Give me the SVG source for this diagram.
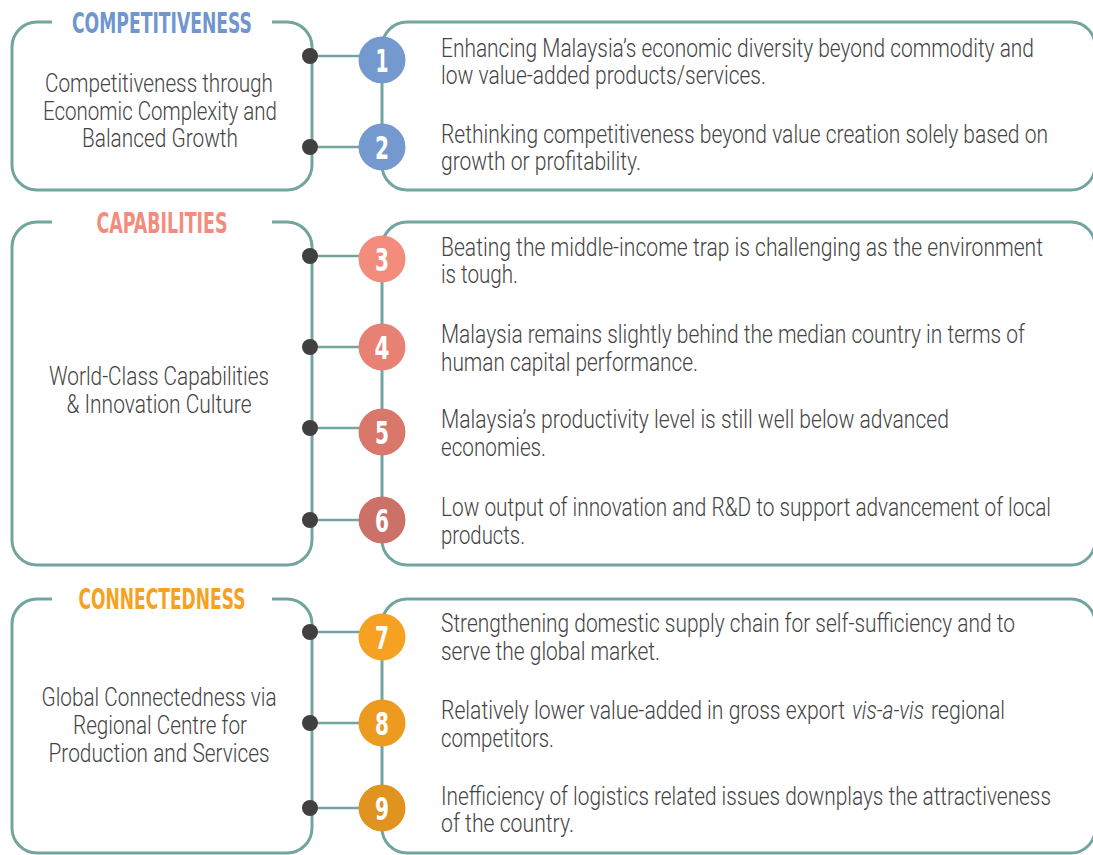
<svg xmlns="http://www.w3.org/2000/svg" width="1093" height="855" viewBox="0 0 1093 855">
<style>
.box{fill:none;stroke:#72a5a0;stroke-width:3}
.con{stroke:#72a5a0;stroke-width:2.5;fill:none}
.dot{fill:#404040}
.title{font-family:"DejaVu Sans Condensed","DejaVu Sans",sans-serif;font-weight:bold;font-size:29px;text-anchor:middle}
.lt{font-family:Roboto,"Liberation Sans",sans-serif;font-weight:300;font-size:25px;fill:#444;text-anchor:middle}
.rt{font-family:Roboto,"Liberation Sans",sans-serif;font-weight:300;font-size:25px;fill:#444}
.num{font-family:"DejaVu Sans Condensed","DejaVu Sans",sans-serif;font-weight:bold;font-size:32px;fill:#fff;text-anchor:middle}
</style>
<rect width="1093" height="855" fill="#fff"/>

<!-- Section 1 -->
<g id="competitiveness">
<path class="box" d="M52,22 H37 A25,25 0 0 0 12,47 V165 A25,25 0 0 0 37,190 H287 A25,25 0 0 0 312,165 V47 A25,25 0 0 0 287,22 H272"/>
<text class="title" x="162" y="33" fill="#7096cd" textLength="180" lengthAdjust="spacingAndGlyphs">COMPETITIVENESS</text>
<text class="lt" x="159" y="92" textLength="228" lengthAdjust="spacingAndGlyphs">Competitiveness through</text>
<text class="lt" x="160" y="120" textLength="234" lengthAdjust="spacingAndGlyphs">Economic Complexity and</text>
<text class="lt" x="160" y="147" textLength="156" lengthAdjust="spacingAndGlyphs">Balanced Growth</text>
</g>
<g id="items1">
<path class="box" d="M382,165 V47 A25,25 0 0 1 407,22 H1071 A24,24 0 0 1 1095,46 V166 A24,24 0 0 1 1071,190 H407 A25,25 0 0 1 382,165"/>
<text class="rt" x="441" y="57" textLength="593" lengthAdjust="spacingAndGlyphs">Enhancing Malaysia’s economic diversity beyond commodity and</text>
<text class="rt" x="441" y="84" textLength="325" lengthAdjust="spacingAndGlyphs">low value-added products/services.</text>
<text class="rt" x="441" y="143" textLength="607" lengthAdjust="spacingAndGlyphs">Rethinking competitiveness beyond value creation solely based on</text>
<text class="rt" x="441" y="170" textLength="200" lengthAdjust="spacingAndGlyphs">growth or profitability.</text>
</g>

<!-- Section 2 -->
<g id="capabilities">
<path class="box" d="M52,222 H37 A25,25 0 0 0 12,247 V540 A25,25 0 0 0 37,565 H287 A25,25 0 0 0 312,540 V247 A25,25 0 0 0 287,222 H272"/>
<text class="title" x="162" y="233" fill="#f48c7e" textLength="131" lengthAdjust="spacingAndGlyphs">CAPABILITIES</text>
<text class="lt" x="159" y="385" textLength="220" lengthAdjust="spacingAndGlyphs">World-Class Capabilities</text>
<text class="lt" x="159" y="413" textLength="185" lengthAdjust="spacingAndGlyphs">&amp; Innovation Culture</text>
</g>
<g id="items2">
<path class="box" d="M382,540 V247 A25,25 0 0 1 407,222 H1071 A24,24 0 0 1 1095,246 V541 A24,24 0 0 1 1071,565 H407 A25,25 0 0 1 382,540"/>
<text class="rt" x="441" y="256" textLength="602" lengthAdjust="spacingAndGlyphs">Beating the middle-income trap is challenging as the environment</text>
<text class="rt" x="441" y="283" textLength="77" lengthAdjust="spacingAndGlyphs">is tough.</text>
<text class="rt" x="441" y="343" textLength="584" lengthAdjust="spacingAndGlyphs">Malaysia remains slightly behind the median country in terms of</text>
<text class="rt" x="441" y="371" textLength="257" lengthAdjust="spacingAndGlyphs">human capital performance.</text>
<text class="rt" x="441" y="428" textLength="508" lengthAdjust="spacingAndGlyphs">Malaysia’s productivity level is still well below advanced</text>
<text class="rt" x="441" y="456" textLength="105" lengthAdjust="spacingAndGlyphs">economies.</text>
<text class="rt" x="441" y="516" textLength="610" lengthAdjust="spacingAndGlyphs">Low output of innovation and R&amp;D to support advancement of local</text>
<text class="rt" x="441" y="544" textLength="84" lengthAdjust="spacingAndGlyphs">products.</text>
</g>

<!-- Section 3 -->
<g id="connectedness">
<path class="box" d="M52,599 H37 A25,25 0 0 0 12,624 V828 A25,25 0 0 0 37,853 H287 A25,25 0 0 0 312,828 V624 A25,25 0 0 0 287,599 H272"/>
<text class="title" x="162" y="609" fill="#f6a121" textLength="167" lengthAdjust="spacingAndGlyphs">CONNECTEDNESS</text>
<text class="lt" x="159" y="706" textLength="235" lengthAdjust="spacingAndGlyphs">Global Connectedness via</text>
<text class="lt" x="160" y="734" textLength="174" lengthAdjust="spacingAndGlyphs">Regional Centre for</text>
<text class="lt" x="159" y="762" textLength="221" lengthAdjust="spacingAndGlyphs">Production and Services</text>
</g>
<g id="items3">
<path class="box" d="M382,828 V624 A25,25 0 0 1 407,599 H1071 A24,24 0 0 1 1095,623 V829 A24,24 0 0 1 1071,853 H407 A25,25 0 0 1 382,828"/>
<text class="rt" x="441" y="632" textLength="574" lengthAdjust="spacingAndGlyphs">Strengthening domestic supply chain for self-sufficiency and to</text>
<text class="rt" x="441" y="660" textLength="219" lengthAdjust="spacingAndGlyphs">serve the global market.</text>
<text class="rt" x="441" y="719" textLength="404" lengthAdjust="spacingAndGlyphs">Relatively lower value-added in gross export</text>
<text class="rt" x="852" y="719" font-style="italic" textLength="72" lengthAdjust="spacingAndGlyphs">vis-a-vis</text>
<text class="rt" x="931" y="719" textLength="74" lengthAdjust="spacingAndGlyphs">regional</text>
<text class="rt" x="441" y="747" textLength="113" lengthAdjust="spacingAndGlyphs">competitors.</text>
<text class="rt" x="441" y="805" textLength="610" lengthAdjust="spacingAndGlyphs">Inefficiency of logistics related issues downplays the attractiveness</text>
<text class="rt" x="441" y="832" textLength="133" lengthAdjust="spacingAndGlyphs">of the country.</text>
</g>

<!-- Connectors -->
<g id="connectors">
<line class="con" x1="310" y1="56" x2="362" y2="56"/>
<line class="con" x1="310" y1="147" x2="362" y2="147"/>
<line class="con" x1="310" y1="256" x2="362" y2="256"/>
<line class="con" x1="310" y1="347" x2="362" y2="347"/>
<line class="con" x1="310" y1="428" x2="362" y2="428"/>
<line class="con" x1="310" y1="520" x2="362" y2="520"/>
<line class="con" x1="310" y1="632" x2="362" y2="632"/>
<line class="con" x1="310" y1="723" x2="362" y2="723"/>
<line class="con" x1="310" y1="808" x2="362" y2="808"/>
<circle class="dot" cx="310" cy="56" r="8"/>
<circle class="dot" cx="310" cy="147" r="8"/>
<circle class="dot" cx="310" cy="256" r="8"/>
<circle class="dot" cx="310" cy="347" r="8"/>
<circle class="dot" cx="310" cy="428" r="8"/>
<circle class="dot" cx="310" cy="520" r="8"/>
<circle class="dot" cx="310" cy="632" r="8"/>
<circle class="dot" cx="310" cy="723" r="8"/>
<circle class="dot" cx="310" cy="808" r="8"/>
</g>

<!-- Numbered circles -->
<g id="n1"><circle cx="382" cy="60" r="23.5" fill="#7399cf"/><text class="num" x="382" y="72" textLength="13" lengthAdjust="spacingAndGlyphs">1</text></g>
<g id="n2"><circle cx="382" cy="147" r="23.5" fill="#7399cf"/><text class="num" x="382" y="159" textLength="14" lengthAdjust="spacingAndGlyphs">2</text></g>
<g id="n3"><circle cx="382" cy="259" r="23.5" fill="#f48c7e"/><text class="num" x="382" y="271" textLength="14" lengthAdjust="spacingAndGlyphs">3</text></g>
<g id="n4"><circle cx="382" cy="347" r="23.5" fill="#e68174"/><text class="num" x="382" y="359" textLength="15" lengthAdjust="spacingAndGlyphs">4</text></g>
<g id="n5"><circle cx="382" cy="432" r="23.5" fill="#d9776b"/><text class="num" x="382" y="444" textLength="14" lengthAdjust="spacingAndGlyphs">5</text></g>
<g id="n6"><circle cx="382" cy="520" r="23.5" fill="#cc7167"/><text class="num" x="382" y="532" textLength="14" lengthAdjust="spacingAndGlyphs">6</text></g>
<g id="n7"><circle cx="382" cy="637" r="23.5" fill="#f6a121"/><text class="num" x="382" y="649" textLength="14" lengthAdjust="spacingAndGlyphs">7</text></g>
<g id="n8"><circle cx="382" cy="723" r="23.5" fill="#ec9b20"/><text class="num" x="382" y="735" textLength="14" lengthAdjust="spacingAndGlyphs">8</text></g>
<g id="n9"><circle cx="382" cy="808" r="23.5" fill="#e0941f"/><text class="num" x="382" y="820" textLength="14" lengthAdjust="spacingAndGlyphs">9</text></g>
</svg>
